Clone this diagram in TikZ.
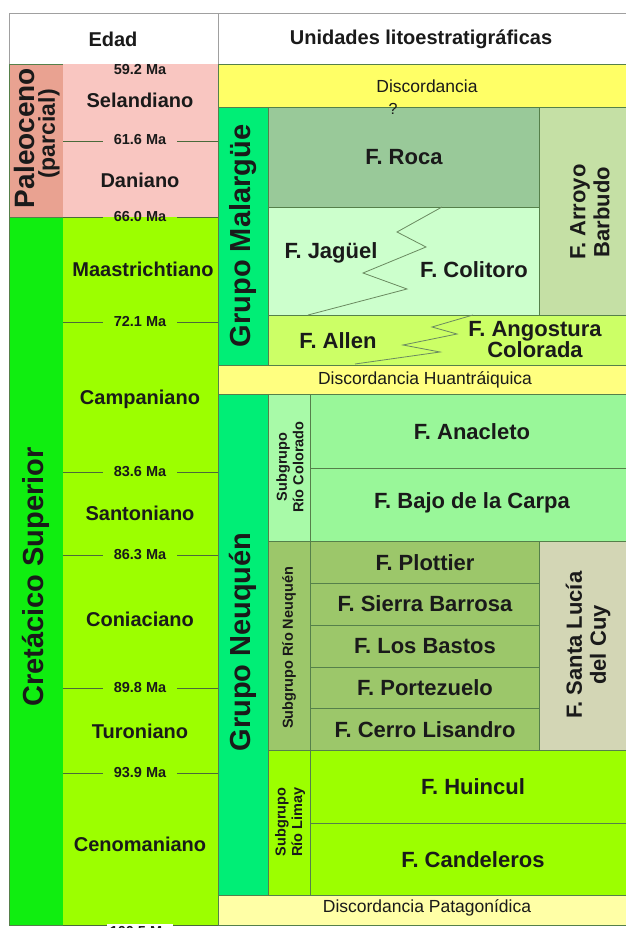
\documentclass[tikz,border=0pt]{standalone}
\usepackage{fontspec}
\setmainfont{Liberation Sans}
\definecolor{bordc}{HTML}{55804A}
\definecolor{hdrc}{HTML}{A0A0A0}
\definecolor{paleoc}{HTML}{E9A291}
\definecolor{pinkc}{HTML}{F9C6C1}
\definecolor{cretc}{HTML}{10EE10}
\definecolor{agec}{HTML}{9CFF00}
\definecolor{grpc}{HTML}{00EE76}
\definecolor{yelA}{HTML}{FFFF66}
\definecolor{yelB}{HTML}{FFFF80}
\definecolor{yelC}{HTML}{FFFFA6}
\definecolor{rocac}{HTML}{99C999}
\definecolor{jagc}{HTML}{CCFFCC}
\definecolor{arroyoc}{HTML}{C5E0A5}
\definecolor{allenc}{HTML}{CCFF66}
\definecolor{anac}{HTML}{99F799}
\definecolor{rcc}{HTML}{A8FAA8}
\definecolor{olivec}{HTML}{9CC76A}
\definecolor{santac}{HTML}{D3D6B5}
\definecolor{lnc}{HTML}{4A6A3A}
\definecolor{zigc}{HTML}{6A8A60}
\definecolor{txtc}{HTML}{1A1A1A}
\newcommand\rbox[7][]{\node[box,#1,fill=#7,minimum width={#5-#3},minimum height={#6-#4}] (#2) at (#3,#4) {};}
\begin{document}
\begin{tikzpicture}[x=1pt,y=-1pt,
  box/.style={draw=bordc,line width=0.7pt,inner sep=0pt,outer sep=0pt,anchor=north west},
  txt/.style={inner sep=0pt,align=center,text=txtc},
  hdrtxt/.style={txt,font=\fontsize{20}{22}\selectfont\bfseries},
  stage/.style={txt,font=\fontsize{20}{22}\selectfont\bfseries},
  agelbl/.style={txt,font=\fontsize{14.5}{16}\selectfont\bfseries},
  form/.style={txt,font=\fontsize{22}{23}\selectfont\bfseries},
  disc/.style={txt,font=\fontsize{17.5}{20}\selectfont},
  big/.style={txt,rotate=90,font=\fontsize{29}{32}\selectfont\bfseries},
  sub/.style={txt,rotate=90,font=\fontsize{14.5}{16.5}\selectfont\bfseries},
  ageline/.style={draw=lnc,line width=0.7pt},
  zig/.style={draw=zigc,line width=0.8pt}]
\useasboundingbox (0,0) rectangle (625,928);
\fill[white] (0,0) rectangle (625,928);
% header
\rbox[draw=hdrc]{hEdad}{9}{13}{218}{64}{white}
\rbox[draw=hdrc]{hUni}{218}{13}{640}{64}{white}
\node[hdrtxt] (tEdad) at (113,39) {Edad};
\node[hdrtxt] (tUni) at (421,39) {Unidades litoestratigráficas};
% age columns
\rbox{paleo}{9}{64}{63}{217}{paleoc}
\rbox{creta}{9}{217}{63}{925}{cretc}
\rbox[draw=none]{sPal}{63}{64}{218}{217}{pinkc}
\rbox[draw=none]{sCre}{63}{217}{218}{925}{agec}
\draw[ageline] (63,925) -- (218,925);
\foreach \yy in {141,217,322,472,555,688,773}{
  \draw[ageline] (63,\yy) -- (103,\yy);
  \draw[ageline] (177,\yy) -- (218,\yy);
}
\node[txt,rotate=90,font=\fontsize{28}{30}\selectfont\bfseries] (tPaleo) at (24,138) {Paleoceno};
\node[txt,rotate=90,font=\fontsize{23}{25}\selectfont\bfseries] (tParc) at (49,134) {(parcial)};
\node[big] (tCreta) at (36,577) {Cretácico Superior};
\node[agelbl,fill=pinkc,inner sep=1pt] (a592) at (140,70) {59.2 Ma};
\node[agelbl] (a616) at (140,140) {61.6 Ma};
\node[agelbl] (a660) at (140,217) {66.0 Ma};
\node[agelbl] (a721) at (140,322) {72.1 Ma};
\node[agelbl] (a836) at (140,472) {83.6 Ma};
\node[agelbl] (a863) at (140,555) {86.3 Ma};
\node[agelbl] (a898) at (140,688) {89.8 Ma};
\node[agelbl] (a939) at (140,773) {93.9 Ma};
\node[agelbl,fill=white,inner xsep=3pt,inner ysep=2pt] (a1005) at (140,931) {100.5 Ma};
\node[stage] (tSel) at (140,100) {Selandiano};
\node[stage] (tDan) at (140,180) {Daniano};
\node[stage] (tMaa) at (143,269) {Maastrichtiano};
\node[stage] (tCam) at (140,399) {Campaniano};
\node[stage] (tSan) at (140,513) {Santoniano};
\node[stage] (tCon) at (140,619) {Coniaciano};
\node[stage] (tTur) at (140,731) {Turoniano};
\node[stage] (tCen) at (140,844) {Cenomaniano};
% units
\rbox{disc1}{218}{64}{640}{107}{yelA}
\rbox{gMal}{218}{107}{268}{365}{grpc}
\rbox{fRoca}{268}{107}{539}{207}{rocac}
\rbox{fArroyo}{539}{107}{640}{315}{arroyoc}
\rbox{fJag}{268}{207}{539}{315}{jagc}
\rbox{fAllen}{268}{315}{640}{365}{allenc}
\rbox{disc2}{218}{365}{640}{394}{yelB}
\rbox{gNeu}{218}{394}{268}{895}{grpc}
\rbox{sgRC}{268}{394}{310}{541}{rcc}
\rbox{fAna}{310}{394}{640}{468}{anac}
\rbox{fBajo}{310}{468}{640}{541}{anac}
\rbox{sgRN}{268}{541}{310}{750}{olivec}
\rbox{fPlo}{310}{541}{539}{583}{olivec}
\rbox{fSie}{310}{583}{539}{625}{olivec}
\rbox{fLos}{310}{625}{539}{667}{olivec}
\rbox{fPor}{310}{667}{539}{708}{olivec}
\rbox{fCer}{310}{708}{539}{750}{olivec}
\rbox{fSan}{539}{541}{640}{750}{santac}
\rbox{sgRL}{268}{750}{310}{895}{agec}
\rbox{fHui}{310}{750}{640}{823}{agec}
\rbox{fCan}{310}{823}{640}{895}{agec}
\rbox{disc3}{218}{895}{640}{925}{yelC}
% zigzags
\draw[zig] (442,207) -- (397,232) -- (426,247) -- (363,273) -- (407,289) -- (308,315);
\draw[zig] (473,315) -- (432,327) -- (457,334) -- (403,345) -- (440,352) -- (355,364);
% unit texts
\node[disc] (tD1) at (427,86) {Discordancia};
\node[txt,font=\fontsize{16}{18}\selectfont] (tQ) at (393,109) {?};
\node[big] (tMal) at (243,236) {Grupo Malargüe};
\node[form,rotate=90,font=\fontsize{22}{24}\selectfont\bfseries] (tArr) at (590,212) {F. Arroyo\\Barbudo};
\node[form] (tRoca) at (404,157) {F. Roca};
\node[form] (tJag) at (331,253) {F. Jagüel};
\node[form] (tCol) at (474,270) {F. Colitoro};
\node[form] (tAll) at (338,341) {F. Allen};
\node[form,font=\fontsize{22}{21}\selectfont\bfseries] (tAng) at (535,340) {F. Angostura\\Colorada};
\node[disc] (tD2) at (425,380) {Discordancia Huantráiquica};
\node[big] (tNeu) at (243,642) {Grupo Neuquén};
\node[sub] (tRC) at (290,467) {Subgrupo\\Río Colorado};
\node[sub] (tRN) at (289,648) {Subgrupo Río Neuquén};
\node[sub] (tRL) at (290,822) {Subgrupo\\Río Limay};
\node[form] (tAna) at (472,432) {F. Anacleto};
\node[form] (tBajo) at (472,503) {F. Bajo de la Carpa};
\node[form] (tPlo) at (425,563) {F. Plottier};
\node[form] (tSie) at (425,604) {F. Sierra Barrosa};
\node[form] (tLos) at (425,646) {F. Los Bastos};
\node[form] (tPor) at (425,688) {F. Portezuelo};
\node[form] (tCer) at (425,730) {F. Cerro Lisandro};
\node[form,rotate=90,font=\fontsize{22}{24}\selectfont\bfseries] (tSanL) at (588,645) {F. Santa Lucía\\del Cuy};
\node[form] (tHui) at (473,787) {F. Huincul};
\node[form] (tCan) at (473,860) {F. Candeleros};
\node[disc] (tD3) at (427,908) {Discordancia Patagonídica};
\end{tikzpicture}
\end{document}
